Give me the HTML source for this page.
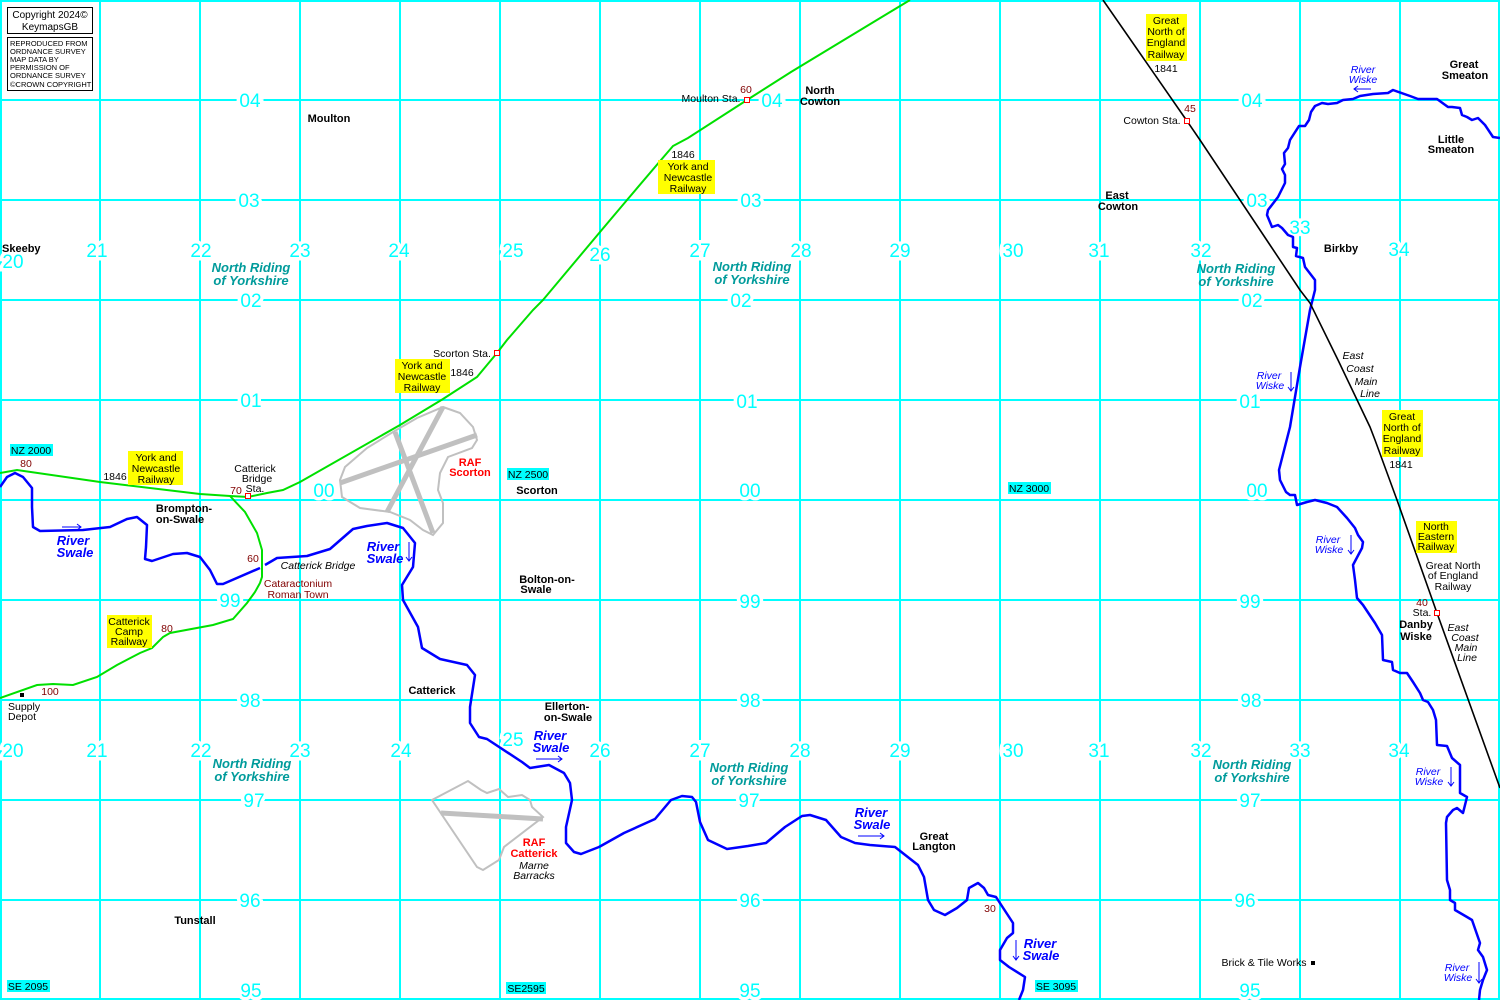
<!DOCTYPE html>
<html><head><meta charset="utf-8"><style>
html,body{margin:0;padding:0;background:#fff;}
svg{display:block;font-family:"Liberation Sans",sans-serif;}
.g{fill:#00ffff;font-size:19px;text-anchor:middle;stroke:#fff;stroke-width:7px;paint-order:stroke;}
.nr{fill:#009b9b;font-size:13px;font-weight:bold;font-style:italic;text-anchor:middle;}
.b{font-size:11px;font-weight:bold;text-anchor:middle;fill:#000;}
.n{font-size:10.5px;text-anchor:middle;fill:#000;}
.i{font-size:10.5px;font-style:italic;text-anchor:middle;fill:#000;}
.r{font-size:10.5px;text-anchor:middle;fill:#800000;}
.rb{font-size:11px;font-weight:bold;text-anchor:middle;fill:#ff0000;}
.sw{font-size:13px;font-weight:bold;font-style:italic;text-anchor:middle;fill:#0000ff;}
.wk{font-size:10.5px;font-style:italic;text-anchor:middle;fill:#0000ff;}
</style></head><body>
<svg width="1500" height="1000" viewBox="0 0 1500 1000" xmlns="http://www.w3.org/2000/svg">
<rect width="1500" height="1000" fill="#fff"/>
<g stroke="#00ffff" stroke-width="2">
<line x1="1" y1="0" x2="1" y2="1000"/><line x1="100" y1="0" x2="100" y2="1000"/><line x1="200" y1="0" x2="200" y2="1000"/><line x1="300" y1="0" x2="300" y2="1000"/><line x1="400" y1="0" x2="400" y2="1000"/><line x1="500" y1="0" x2="500" y2="1000"/><line x1="600" y1="0" x2="600" y2="1000"/><line x1="700" y1="0" x2="700" y2="1000"/><line x1="800" y1="0" x2="800" y2="1000"/><line x1="900" y1="0" x2="900" y2="1000"/><line x1="1000" y1="0" x2="1000" y2="1000"/><line x1="1100" y1="0" x2="1100" y2="1000"/><line x1="1200" y1="0" x2="1200" y2="1000"/><line x1="1300" y1="0" x2="1300" y2="1000"/><line x1="1400" y1="0" x2="1400" y2="1000"/><line x1="1499" y1="0" x2="1499" y2="1000"/>
<line x1="0" y1="1" x2="1500" y2="1"/><line x1="0" y1="100" x2="1500" y2="100"/><line x1="0" y1="200" x2="1500" y2="200"/><line x1="0" y1="300" x2="1500" y2="300"/><line x1="0" y1="400" x2="1500" y2="400"/><line x1="0" y1="500" x2="1500" y2="500"/><line x1="0" y1="600" x2="1500" y2="600"/><line x1="0" y1="700" x2="1500" y2="700"/><line x1="0" y1="800" x2="1500" y2="800"/><line x1="0" y1="900" x2="1500" y2="900"/><line x1="0" y1="999" x2="1500" y2="999"/>
</g>
<g class="g">
<text x="250" y="107">04</text><text x="772" y="107">04</text><text x="1252" y="107">04</text>
<text x="249" y="207">03</text><text x="751" y="207">03</text><text x="1257" y="207">03</text>
<text x="251" y="307">02</text><text x="741" y="307">02</text><text x="1252" y="307">02</text>
<text x="251" y="407">01</text><text x="747" y="408">01</text><text x="1250" y="408">01</text>
<text x="324" y="497">00</text><text x="750" y="497">00</text><text x="1257" y="497">00</text>
<text x="230" y="607">99</text><text x="750" y="608">99</text><text x="1250" y="608">99</text>
<text x="250" y="707">98</text><text x="750" y="707">98</text><text x="1251" y="707">98</text>
<text x="254" y="807">97</text><text x="749" y="807">97</text><text x="1250" y="807">97</text>
<text x="250" y="907">96</text><text x="750" y="907">96</text><text x="1245" y="907">96</text>
<text x="251" y="997">95</text><text x="750" y="997">95</text><text x="1250" y="997">95</text>
<text x="13" y="268">20</text><text x="97" y="257">21</text><text x="201" y="257">22</text><text x="300" y="257">23</text><text x="399" y="257">24</text><text x="513" y="257">25</text><text x="600" y="261">26</text><text x="700" y="257">27</text><text x="801" y="257">28</text><text x="900" y="257">29</text><text x="1013" y="257">30</text><text x="1099" y="257">31</text><text x="1201" y="257">32</text><text x="1300" y="234">33</text><text x="1399" y="256">34</text>
<text x="13" y="757">20</text><text x="97" y="757">21</text><text x="201" y="757">22</text><text x="300" y="757">23</text><text x="401" y="757">24</text><text x="513" y="746">25</text><text x="600" y="757">26</text><text x="700" y="757">27</text><text x="800" y="757">28</text><text x="900" y="757">29</text><text x="1013" y="757">30</text><text x="1099" y="757">31</text><text x="1201" y="757">32</text><text x="1300" y="757">33</text><text x="1399" y="757">34</text>
</g>
<g class="nr">
<text x="251" y="272">North Riding</text><text x="251" y="285">of Yorkshire</text>
<text x="752" y="271">North Riding</text><text x="752" y="284">of Yorkshire</text>
<text x="1236" y="273">North Riding</text><text x="1236" y="286">of Yorkshire</text>
<text x="252" y="768">North Riding</text><text x="252" y="781">of Yorkshire</text>
<text x="749" y="772">North Riding</text><text x="749" y="785">of Yorkshire</text>
<text x="1252" y="769">North Riding</text><text x="1252" y="782">of Yorkshire</text>
</g>
<g fill="none" stroke="#c0c0c0">
<path stroke-width="2" d="M443,407 L460,413 L473,427 L477,440 L472,448 L448,457 L440,473 L438,490 L443,503 L443,523 L433,535 L423,530 L410,520 L390,512 L360,508 L342,497 L340,480 L345,467 L367,448 L393,432 L417,418 Z"/>
<path stroke-width="5" d="M340,483 L477,435 M443,407 L387,512 M395,432 L433,533"/>
<path stroke-width="2" d="M432,800 L468,781 L481,790 L487,793 L499,789 L508,797 L522,795 L530,800 L532,807 L543,817 L504,847 L499,860 L483,870 L477,867 Z"/>
<path stroke-width="5" d="M441,813 L543,819"/>
</g>
<g fill="none" stroke="#0000ff" stroke-width="2.5" stroke-linejoin="round">
<path d="M0,487 L7,477 L15,473 L23,477 L32,488 L32,507 L33,527 L40,531 L83,530 L110,527 L127,519 L137,517 L147,525 L146,547 L145,559 L152,561 L173,554 L187,553 L200,557 L210,570 L217,584 L223,584 L260,568"/>
<path d="M265,565 L277,558 L307,556 L330,549 L353,529 L367,526 L387,523 L403,528 L415,543 L413,567 L402,585 L403,600 L418,627 L422,648 L440,659 L467,665 L475,675 L470,707 L470,723 L479,737 L487,739 L522,762 L530,768 L549,765 L564,773 L570,783 L572,800 L566,827 L566,843 L574,852 L581,854 L599,847 L624,833 L655,819 L671,800 L682,796 L692,797 L696,802 L700,822 L708,840 L727,849 L748,846 L766,843 L785,827 L802,816 L810,815 L826,820 L841,837 L855,843 L870,845 L895,847 L918,865 L924,877 L928,900 L934,910 L945,915 L957,908 L967,900 L969,888 L978,883 L984,888 L988,895 L996,897 L1013,923 L1013,933 L1007,938 L1000,950 L1000,960 L1009,967 L1025,977 L1023,990 L1019,1000"/>
<path d="M1500,138 L1493,137 L1485,125 L1478,118 L1472,120 L1467,117 L1462,115 L1460,108 L1452,107 L1448,107 L1437,99 L1427,99 L1418,99 L1410,96 L1393,90 L1388,93 L1373,94 L1360,96 L1353,99 L1343,100 L1337,103 L1328,104 L1322,103 L1315,106 L1311,112 L1309,120 L1305,126 L1299,126 L1290,140 L1288,148 L1284,153 L1285,164 L1282,169 L1285,175 L1285,183 L1278,197 L1268,210 L1267,215 L1272,227 L1278,225 L1282,228 L1288,235 L1293,237 L1293,247 L1297,248 L1296,256 L1303,258 L1305,267 L1315,280 L1315,290 L1310,310 L1300,367 L1290,427 L1279,470 L1280,480 L1286,492 L1290,495 L1295,495 L1297,505 L1307,502 L1315,500 L1327,503 L1337,507 L1347,518 L1355,528 L1358,535 L1363,542 L1362,548 L1353,565 L1355,580 L1357,598 L1363,605 L1375,623 L1382,635 L1383,660 L1392,662 L1393,670 L1400,673 L1407,673 L1413,682 L1420,693 L1423,700 L1428,702 L1433,710 L1436,720 L1437,745 L1447,746 L1452,758 L1460,765 L1460,793 L1467,797 L1463,813 L1457,808 L1453,810 L1447,817 L1446,823 L1447,880 L1450,890 L1450,900 L1455,903 L1455,910 L1467,917 L1472,920 L1480,943 L1478,950 L1483,957 L1487,970 L1483,980 L1480,990 L1479,1000"/>
</g>
<g fill="none" stroke="#00e000" stroke-width="2">
<path d="M0,473 L17,470 L100,482 L200,494 L230,496 L248,497 L267,493 L283,490 L300,482 L400,425 L443,399 L460,388 L477,377 L487,365 L497,353 L507,340 L533,310 L543,300 L600,232 L627,200 L661,160 L673,146 L688,138 L747,100 L791,72 L910,0"/>
<path d="M230,496 L245,512 L257,533 L262,550 L262,577 L260,583 L255,592 L247,603 L233,619 L213,625 L170,633 L163,637 L152,648 L140,653 L117,665 L97,677 L73,685 L53,684 L37,685 L0,698"/>
</g>
<path d="M1103,0 L1187,121 L1200,140 L1300,290 L1310,303 L1338,360 L1370,427 L1375,440 L1397,500 L1437,613 L1500,788" fill="none" stroke="#000" stroke-width="1.6"/>
<g fill="#fff" stroke="#ff0000" stroke-width="1">
<rect x="245.5" y="493.5" width="5" height="5"/><rect x="494.5" y="350.5" width="5" height="5"/><rect x="744.5" y="97.5" width="5" height="5"/><rect x="1184.5" y="118.5" width="5" height="5"/><rect x="1434.5" y="610.5" width="5" height="5"/>
</g>
<rect x="20" y="693" width="4" height="4" fill="#000"/><rect x="1311" y="961" width="4" height="4" fill="#000"/>
<g fill="#ffff00">
<rect x="128" y="451" width="55" height="34"/><rect x="395" y="359" width="55" height="34"/><rect x="658" y="160" width="57" height="34"/>
<rect x="107" y="615" width="45" height="33"/><rect x="1146" y="14" width="41" height="47"/><rect x="1382" y="410" width="41" height="47"/><rect x="1416" y="521" width="41" height="32"/>
</g>
<g class="n">
<text x="156" y="461">York and</text><text x="156" y="472">Newcastle</text><text x="156" y="483">Railway</text>
<text x="422" y="369">York and</text><text x="422" y="380">Newcastle</text><text x="422" y="391">Railway</text>
<text x="688" y="170">York and</text><text x="688" y="181">Newcastle</text><text x="688" y="192">Railway</text>
<text x="129" y="625">Catterick</text><text x="129" y="635">Camp</text><text x="129" y="645">Railway</text>
<text x="1166" y="24">Great</text><text x="1166" y="35">North of</text><text x="1166" y="46">England</text><text x="1166" y="58">Railway</text>
<text x="1402" y="420">Great</text><text x="1402" y="431">North of</text><text x="1402" y="442">England</text><text x="1402" y="454">Railway</text>
<text x="1436" y="530">North</text><text x="1436" y="540">Eastern</text><text x="1436" y="550">Railway</text>
<text x="255" y="472">Catterick</text><text x="257" y="482">Bridge</text><text x="255" y="492">Sta.</text>
<text x="115" y="480">1846</text><text x="462" y="357">Scorton Sta.</text><text x="462" y="376">1846</text>
<text x="711" y="102">Moulton Sta.</text><text x="683" y="158">1846</text><text x="1166" y="72">1841</text>
<text x="1152" y="124">Cowton Sta.</text><text x="1401" y="468">1841</text>
<text x="1453" y="569">Great North</text><text x="1453" y="579">of England</text><text x="1453" y="590">Railway</text>
<text x="1422" y="616">Sta.</text><text x="1264" y="966">Brick &amp; Tile Works</text>
<text x="8" y="710" text-anchor="start">Supply</text><text x="8" y="720" text-anchor="start">Depot</text>
</g>
<g fill="#00ffff">
<rect x="10" y="444" width="43" height="12"/><rect x="507" y="468" width="42" height="12"/><rect x="1008" y="482" width="43" height="12"/><rect x="7" y="980" width="43" height="12"/><rect x="506" y="982" width="40" height="12"/><rect x="1035" y="980" width="43" height="12"/>
</g>
<g class="n">
<text x="31" y="454">NZ 2000</text><text x="528" y="478">NZ 2500</text><text x="1029" y="492">NZ 3000</text><text x="28" y="990">SE 2095</text><text x="526" y="992">SE2595</text><text x="1056" y="990">SE 3095</text>
</g>
<g class="b">
<text x="329" y="122">Moulton</text><text x="820" y="94">North</text><text x="820" y="105">Cowton</text>
<text x="1117" y="199">East</text><text x="1118" y="210">Cowton</text>
<text x="1464" y="68">Great</text><text x="1465" y="79">Smeaton</text>
<text x="1451" y="143">Little</text><text x="1451" y="153">Smeaton</text>
<text x="1341" y="252">Birkby</text><text x="2" y="252" text-anchor="start">Skeeby</text>
<text x="184" y="512">Brompton-</text><text x="180" y="523">on-Swale</text>
<text x="537" y="494">Scorton</text><text x="547" y="583">Bolton-on-</text><text x="536" y="593">Swale</text>
<text x="432" y="694">Catterick</text><text x="567" y="710">Ellerton-</text><text x="568" y="721">on-Swale</text>
<text x="934" y="840">Great</text><text x="934" y="850">Langton</text><text x="195" y="924">Tunstall</text>
<text x="1416" y="628">Danby</text><text x="1416" y="640">Wiske</text>
</g>
<g class="i">
<text x="1353" y="359">East</text><text x="1360" y="372">Coast</text><text x="1366" y="385">Main</text><text x="1370" y="397">Line</text>
<text x="1458" y="631">East</text><text x="1465" y="641">Coast</text><text x="1466" y="651">Main</text><text x="1467" y="661">Line</text>
<text x="318" y="569">Catterick Bridge</text><text x="534" y="869">Marne</text><text x="534" y="879">Barracks</text>
</g>
<g class="r">
<text x="26" y="467">80</text><text x="236" y="494">70</text><text x="253" y="562">60</text><text x="167" y="632">80</text><text x="50" y="695">100</text><text x="746" y="93">60</text><text x="1190" y="112">45</text><text x="1422" y="606">40</text><text x="990" y="912">30</text>
<text x="298" y="587">Cataractonium</text><text x="298" y="598">Roman Town</text>
</g>
<g class="rb">
<text x="470" y="466">RAF</text><text x="470" y="476">Scorton</text>
<text x="534" y="846">RAF</text><text x="534" y="857">Catterick</text>
</g>
<g class="sw">
<text x="73" y="545">River</text><text x="75" y="557">Swale</text>
<text x="383" y="551">River</text><text x="385" y="563">Swale</text>
<text x="550" y="740">River</text><text x="551" y="752">Swale</text>
<text x="871" y="817">River</text><text x="872" y="829">Swale</text>
<text x="1040" y="948">River</text><text x="1041" y="960">Swale</text>
</g>
<g class="wk">
<text x="1363" y="73">River</text><text x="1363" y="83">Wiske</text>
<text x="1269" y="379">River</text><text x="1270" y="389">Wiske</text>
<text x="1328" y="543">River</text><text x="1329" y="553">Wiske</text>
<text x="1428" y="775">River</text><text x="1429" y="785">Wiske</text>
<text x="1457" y="971">River</text><text x="1458" y="981">Wiske</text>
</g>
<g stroke="#0000ff" stroke-width="1" fill="none">
<path d="M62,527 L81,527 M77,524 L81,527 L77,530"/>
<path d="M409,542 L409,561 M406,557 L409,561 L412,557"/>
<path d="M536,759 L562,759 M558,756 L562,759 L558,762"/>
<path d="M858,836 L884,836 M880,833 L884,836 L880,839"/>
<path d="M1016,940 L1016,960 M1013,956 L1016,960 L1019,956"/>
<path d="M1371,89 L1354,89 M1358,86 L1354,89 L1358,92"/>
<path d="M1291,372 L1291,391 M1288,387 L1291,391 L1294,387"/>
<path d="M1351,535 L1351,554 M1348,550 L1351,554 L1354,550"/>
<path d="M1451,767 L1451,786 M1448,782 L1451,786 L1454,782"/>
<path d="M1479,962 L1479,983 M1476,979 L1479,983 L1482,979"/>
</g>
<rect x="7.5" y="7.5" width="85" height="26" fill="#fff" stroke="#000"/>
<text x="50" y="18" font-size="10" text-anchor="middle">Copyright 2024©</text>
<text x="50" y="30" font-size="10" text-anchor="middle">KeymapsGB</text>
<rect x="7.5" y="37.5" width="85" height="53" fill="#fff" stroke="#000"/>
<g font-size="7.5" fill="#000">
<text x="10" y="46">REPRODUCED FROM</text><text x="10" y="54">ORDNANCE SURVEY</text><text x="10" y="62">MAP DATA BY</text><text x="10" y="70">PERMISSION OF</text><text x="10" y="78">ORDNANCE SURVEY</text><text x="10" y="87">©CROWN COPYRIGHT</text>
</g>
</svg>
</body></html>
